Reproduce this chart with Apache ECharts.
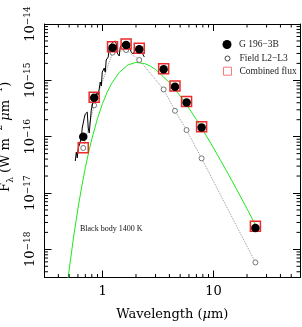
<!DOCTYPE html>
<html><head><meta charset="utf-8">
<script src="https://cdn.jsdelivr.net/npm/echarts@6/dist/echarts.min.js"></script>
<style>html,body{margin:0;padding:0;background:#fff}#c{width:302px;height:327px}</style>
</head><body><div id="c"></div>
<script>
// Spectrum of G 196-3B (black line)
const specWave=[0.568,0.580,0.592,0.604,0.617,0.643,0.656,0.684,0.698,0.728,0.743,0.759,0.791,0.824,0.859,0.896,0.915,0.953,0.974,0.994,1.035,1.057,1.079,1.125,1.149,1.197,1.248,1.301,1.328,1.356,1.413,1.443,1.504,1.602,1.670,1.740,1.814,1.891,1.971,2.098,2.187,2.280,2.376];
const specFlux=[3.7e-17,5.3e-17,4.2e-17,6.3e-17,7.1e-17,9.4e-17,1.42e-16,2.14e-16,2.52e-16,2.73e-16,1.42e-16,1.16e-16,2.96e-16,4.29e-16,4.85e-16,6.2e-16,5.48e-16,9.33e-16,7.92e-16,1.4e-15,1.65e-15,1.4e-15,2.3e-15,2.6e-15,3.75e-15,4.42e-15,4.79e-15,4.99e-15,4.42e-15,3.05e-15,2.7e-15,3.9e-15,4.42e-15,4.79e-15,4.6e-15,3.9e-15,3.18e-15,2.93e-15,3.45e-15,3.9e-15,3.6e-15,3.05e-15,2.6e-15];
// Photometric bands
const bandWave=[0.67,0.84,1.23,1.63,2.14,3.55,4.49,5.71,7.8,23.8];
const g196Flux=[1.0e-16,4.9e-16,3.79e-15,4.24e-15,3.56e-15,1.57e-15,7.69e-16,4.06e-16,1.46e-16,2.38e-18];
const combinedFlux=[6.35e-17,5.0e-16,3.95e-15,4.42e-15,3.7e-15,1.6e-15,7.9e-16,4.2e-16,1.5e-16,2.58e-18];
const fieldFlux=[6.3e-17,3.6e-16,3.1e-15,3.45e-15,2.3e-15,6.9e-16,2.88e-16,1.31e-16,4.12e-17,5.85e-19];
// Black body 1400 K curve
const bbWave=[0.48,0.5,0.55,0.6,0.65,0.7,0.75,0.8,0.9,1.0,1.1,1.2,1.4,1.7,2.0,2.4,2.7,3,4,5,6,7,8,10,13,16,20,24.5];
const bbFlux=[2.23e-19,4.27e-19,1.72e-18,5.28e-18,1.32e-17,2.82e-17,5.31e-17,9.07e-17,2.10e-16,3.88e-16,6.13e-16,8.64e-16,1.36e-15,1.885e-15,2.08e-15,1.98e-15,1.786e-15,1.56e-15,9.13e-16,5.30e-16,3.19e-16,2.007e-16,1.316e-16,6.28e-17,2.52e-17,1.193e-17,5.24e-18,2.45e-18];
const seriesNames=['G 196\u22123B','Field L2\u2212L3','Combined flux'];
const xTickLabels=['1','10'];

const xMin=0.3,xMax=60,yMin=Math.pow(10,-18.5),yMax=1e-14;
const xMinor=[];[0.1,1,10].forEach(d=>{for(let k=2;k<=9;k++){const v=k*d;if(v>xMin*1.001&&v<xMax*0.999)xMinor.push(v);}});
const yMinor=[];for(let e=-19;e<=-15;e++){for(let k=2;k<=9;k++){const v=k*Math.pow(10,e);if(v>yMin*1.001&&v<yMax*0.999)yMinor.push(v);}}

const zip=(a,b)=>a.map((v,i)=>[v,b[i]]);
const isDecade=v=>{const e=Math.log10(v);return Math.abs(e-Math.round(e))<1e-6;};
const serif='DejaVu Serif';
const tnr='Liberation Serif';

const chart=echarts.init(document.getElementById('c'),null,{renderer:'canvas'});
const axisCommon={type:'log',logBase:10,axisLine:{lineStyle:{color:'#000',width:1}},splitLine:{show:false},
  axisTick:{inside:true,length:7,lineStyle:{color:'#000'}}};
chart.setOption({
  animation:false,
  backgroundColor:'#fff',
  grid:{left:44.5,top:24,right:2,bottom:49.5,containLabel:false,outerBoundsMode:'none'},
  xAxis:[
    Object.assign({},axisCommon,{position:'bottom',min:xMin,max:xMax,
      name:'Wavelength ({i|\u03bc}m)',nameLocation:'middle',nameGap:31,
      nameTextStyle:{fontFamily:serif,fontSize:13,color:'#000',rich:{i:{fontFamily:serif,fontSize:13,fontStyle:'italic',color:'#000'}}},
      axisLabel:{margin:8,fontFamily:serif,fontSize:13,color:'#000',
        formatter:v=>{if(!isDecade(v))return '';const e=Math.round(Math.log10(v));return xTickLabels[e]||'';}}}),
    Object.assign({},axisCommon,{position:'top',min:xMin,max:xMax,axisLabel:{show:false}})
  ],
  yAxis:[
    Object.assign({},axisCommon,{position:'left',min:yMin,max:yMax,
      name:'F{sub|\u03bb} (W m{sup|\u22122} {i|\u03bc}m{sup|\u22121})',nameLocation:'middle',nameGap:21,
      nameTextStyle:{fontFamily:serif,fontSize:13,color:'#000',lineHeight:20,padding:[0,0,0,28],
        rich:{sub:{fontFamily:serif,fontSize:9,lineHeight:9,verticalAlign:'bottom',color:'#000'},
              sup:{fontFamily:serif,fontSize:9,lineHeight:9,verticalAlign:'top',color:'#000'},
              i:{fontFamily:serif,fontSize:13,fontStyle:'italic',color:'#000'}}},
      axisLabel:{rotate:90,margin:7,color:'#000',
        formatter:v=>{if(!isDecade(v))return '';const e=Math.round(Math.log10(v));return '{b|10}{s|\u2212'+(-e)+'}';},
        rich:{b:{fontFamily:serif,fontSize:13,lineHeight:14,color:'#000'},
              s:{fontFamily:serif,fontSize:9,lineHeight:9,verticalAlign:'top',color:'#000'}}}}),
    Object.assign({},axisCommon,{position:'right',min:yMin,max:yMax,axisLabel:{show:false}})
  ],
  legend:[
    {data:[{name:seriesNames[0],icon:'circle',itemStyle:{color:'#000',opacity:1}}],left:222.5,top:39.5,padding:0,itemWidth:9,itemHeight:9,
      textStyle:{fontFamily:tnr,fontSize:9.5,color:'#222',padding:[0,0,0,2.5]}},
    {data:[{name:seriesNames[1],icon:'circle',itemStyle:{color:'#fff',borderColor:'#444',borderWidth:1,opacity:1}}],left:224.5,top:53.5,padding:0,itemWidth:5,itemHeight:5,
      textStyle:{fontFamily:tnr,fontSize:9.5,color:'#222',padding:[0,0,0,4.5]}},
    {data:[{name:seriesNames[2],icon:'rect',itemStyle:{color:'rgba(0,0,0,0)',borderColor:'#f77',borderWidth:1,opacity:1}}],left:223,top:66.2,padding:0,itemWidth:8,itemHeight:8,
      textStyle:{fontFamily:tnr,fontSize:9.5,color:'#222',padding:[0,0,0,3]}}
  ],
  graphic:[{type:'text',left:80,top:225,silent:true,style:{text:'Black body 1400 K',fontFamily:tnr,fontSize:8,fill:'#111'}}],
  series:[
    {type:'line',name:'spectrum',data:zip(specWave,specFlux),showSymbol:false,symbol:'none',lineStyle:{color:'#000',width:1},z:3},
    {type:'line',name:'bb',data:zip(bbWave,bbFlux),showSymbol:false,symbol:'none',lineStyle:{color:'#1ee81e',width:1},z:2},
    {type:'line',name:seriesNames[1],data:zip(bandWave,fieldFlux),symbol:'circle',symbolSize:5,
      itemStyle:{color:'#fff',borderColor:'#555',borderWidth:0.8,opacity:1},lineStyle:{color:'#999',width:1,type:'dotted'},z:2},
    {type:'scatter',name:seriesNames[2],data:zip(bandWave,combinedFlux),symbol:'rect',symbolSize:10,
      itemStyle:{color:'rgba(0,0,0,0)',borderColor:'#ee2a2a',borderWidth:1.5,opacity:1},z:4},
    {type:'scatter',name:seriesNames[0],data:zip(bandWave,g196Flux),symbol:'circle',symbolSize:8.5,
      itemStyle:{color:'#000',opacity:1},z:5},
    {type:'custom',name:'xminor',coordinateSystem:'cartesian2d',silent:true,clip:false,z:6,
      data:xMinor.map(v=>[v,yMin]),
      renderItem:(p,api)=>{const v=api.value(0);const a=api.coord([v,yMin]);const b=api.coord([v,yMax]);
        return {type:'group',children:[
          {type:'line',shape:{x1:a[0],y1:a[1],x2:a[0],y2:a[1]-3.5},style:{stroke:'#000',lineWidth:1}},
          {type:'line',shape:{x1:b[0],y1:b[1],x2:b[0],y2:b[1]+3.5},style:{stroke:'#000',lineWidth:1}}]};}},
    {type:'custom',name:'yminor',coordinateSystem:'cartesian2d',silent:true,clip:false,z:6,
      data:yMinor.map(v=>[xMin,v]),
      renderItem:(p,api)=>{const v=api.value(1);const a=api.coord([xMin,v]);const b=api.coord([xMax,v]);
        return {type:'group',children:[
          {type:'line',shape:{x1:a[0],y1:a[1],x2:a[0]+3.5,y2:a[1]},style:{stroke:'#000',lineWidth:1}},
          {type:'line',shape:{x1:b[0],y1:b[1],x2:b[0]-3.5,y2:b[1]},style:{stroke:'#000',lineWidth:1}}]};}}
  ]
});
</script></body></html>
